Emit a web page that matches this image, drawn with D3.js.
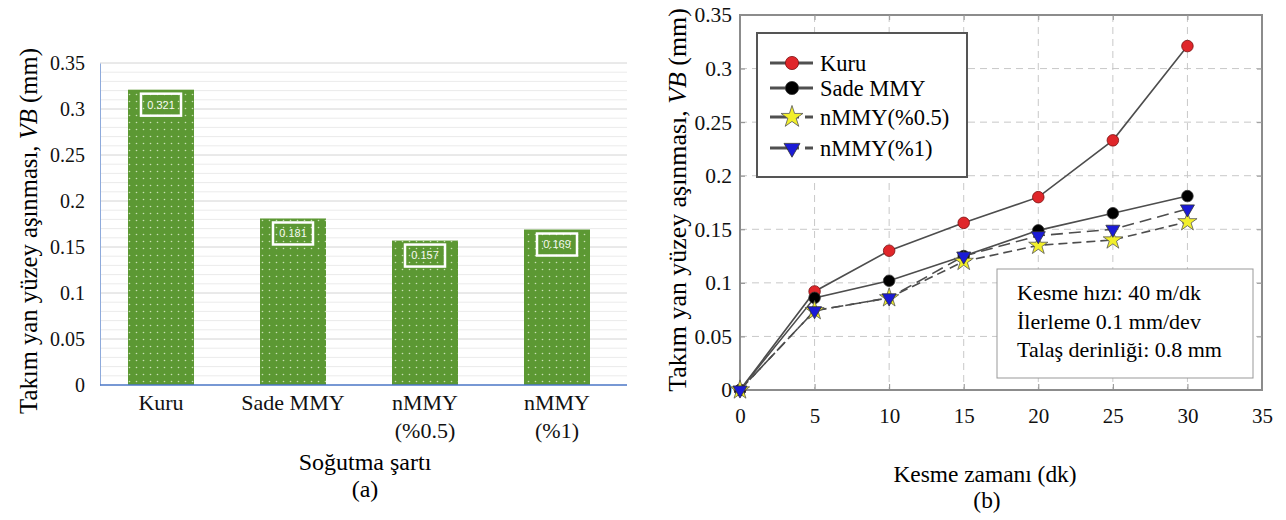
<!DOCTYPE html>
<html>
<head>
<meta charset="utf-8">
<script src="https://cdn.jsdelivr.net/npm/d3@7"></script>
<style>
  body { margin: 0; background: #fff; }
  svg { display: block; font-family: "Liberation Serif", "Times New Roman", serif; }
</style>
</head>
<body>
<div id="chart"></div>
<script>
// ---- data: panel (a) ----
const conditions = ["Kuru", "Sade MMY", "nMMY\n(%0.5)", "nMMY\n(%1)"];
const wearValues = [0.321, 0.181, 0.157, 0.169];
const barTicks = [0, 0.05, 0.1, 0.15, 0.2, 0.25, 0.3, 0.35];

// ---- data: panel (b) ----
const cutTimes = [0, 5, 10, 15, 20, 25, 30];
const seriesNames = ["Kuru", "Sade MMY", "nMMY(%0.5)", "nMMY(%1)"];
const kuruWear = [0, 0.092, 0.130, 0.156, 0.180, 0.233, 0.321];
const sadeWear = [0, 0.086, 0.102, 0.125, 0.149, 0.165, 0.181];
const nmmy05Wear = [0, 0.074, 0.086, 0.120, 0.135, 0.140, 0.157];
const nmmy1Wear = [0, 0.074, 0.086, 0.125, 0.144, 0.150, 0.169];
const xTicksB = [0, 5, 10, 15, 20, 25, 30, 35];
const yTicksB = [0, 0.05, 0.1, 0.15, 0.2, 0.25, 0.3, 0.35];
const noteLines = ["Kesme hızı: 40 m/dk", "İlerleme 0.1 mm/dev", "Talaş derinliği: 0.8 mm"];

const svg = d3.select("#chart").append("svg")
    .attr("width", 1286)
    .attr("height", 520);

// dotted fill for the bars
const defs = svg.append("defs");
const pat = defs.append("pattern")
    .attr("id", "dots")
    .attr("width", 7).attr("height", 7)
    .attr("patternUnits", "userSpaceOnUse");
pat.append("rect").attr("width", 7).attr("height", 7).attr("fill", "#5c9833");
pat.append("circle").attr("cx", 3.5).attr("cy", 3.5).attr("r", 0.8).attr("fill", "#c9e0b4");

const fmt = d => d === 0 ? "0" : String(+d.toFixed(2));

/////////////// PANEL (a) ///////////////
const a = svg.append("g");

const xA = d3.scaleBand()
    .domain(conditions)
    .range([95, 623])
    .paddingInner(0.5)
    .paddingOuter(0.25);

const yA = d3.scaleLinear()
    .domain([0, 0.35])
    .range([385, 63]);

// minor + major gridlines
a.append("g").selectAll("line")
    .data(d3.range(1, 36).map(i => i / 100))
    .join("line")
    .attr("x1", 100).attr("x2", 627)
    .attr("y1", d => yA(d)).attr("y2", d => yA(d))
    .attr("stroke", (d, i) => (i + 1) % 5 === 0 ? "#d4d4d4" : "#ebebeb")
    .attr("stroke-width", 1);

// y axis
a.append("g")
    .attr("transform", "translate(100,0)")
    .call(d3.axisLeft(yA).tickValues(barTicks).tickSize(0).tickPadding(15).tickFormat(fmt))
    .call(g => g.select(".domain").attr("stroke", "#8eaadb"))
    .call(g => g.selectAll("text").attr("font-size", 20).attr("font-family", "Liberation Serif").attr("fill", "#111"));

// bars
a.selectAll(".bar")
    .data(wearValues)
    .join("rect")
    .attr("class", "bar")
    .attr("x", (d, i) => xA(conditions[i]))
    .attr("y", d => yA(d))
    .attr("width", xA.bandwidth())
    .attr("height", d => yA(0) - yA(d))
    .attr("fill", "url(#dots)");

// value labels in boxes
const lab = a.selectAll(".lab")
    .data(wearValues)
    .join("g")
    .attr("class", "lab")
    .attr("transform", (d, i) => `translate(${xA(conditions[i]) + xA.bandwidth() / 2},${yA(d) + 15})`);
lab.append("rect")
    .attr("x", -20).attr("y", -11)
    .attr("width", 40).attr("height", 22)
    .attr("fill", "none")
    .attr("stroke", "#fff")
    .attr("stroke-width", 2.5);
lab.append("text")
    .attr("text-anchor", "middle")
    .attr("dy", "0.35em")
    .attr("font-family", "Liberation Sans, Arial, sans-serif")
    .attr("font-size", 11)
    .attr("fill", "#f4f8f0")
    .text(d => d.toFixed(3));

// bottom axis line
a.append("line")
    .attr("x1", 100).attr("x2", 627)
    .attr("y1", yA(0)).attr("y2", yA(0))
    .attr("stroke", "#4a76c6").attr("stroke-width", 1.5);

// category labels
a.selectAll(".cat")
    .data(conditions)
    .join("text")
    .attr("class", "cat")
    .attr("y", 410)
    .attr("text-anchor", "middle")
    .attr("font-size", 22)
    .attr("fill", "#111")
    .each(function (d) {
        const cx = xA(d) + xA.bandwidth() / 2;
        d3.select(this).selectAll("tspan")
            .data(d.split("\n"))
            .join("tspan")
            .attr("x", cx)
            .attr("dy", (p, j) => j === 0 ? 0 : 28)
            .text(p => p);
    });

a.append("text")
    .attr("x", 365).attr("y", 470)
    .attr("text-anchor", "middle")
    .attr("font-size", 24)
    .text("Soğutma şartı");
a.append("text")
    .attr("x", 365).attr("y", 497)
    .attr("text-anchor", "middle")
    .attr("font-size", 24)
    .text("(a)");

const yTitleA = a.append("text")
    .attr("transform", "translate(37,231) rotate(-90)")
    .attr("text-anchor", "middle")
    .attr("font-size", 24.7);
yTitleA.append("tspan").text("Takım yan yüzey aşınması, ");
yTitleA.append("tspan").attr("font-style", "italic").text("VB");
yTitleA.append("tspan").text(" (mm)");

/////////////// PANEL (b) ///////////////
const b = svg.append("g");

const xB = d3.scaleLinear().domain([0, 35]).range([740, 1262]);
const yB = d3.scaleLinear().domain([0, 0.35]).range([390, 15]);

// dashed gridlines
b.append("g").selectAll("line")
    .data(xTicksB.slice(1, -1))
    .join("line")
    .attr("x1", d => xB(d)).attr("x2", d => xB(d))
    .attr("y1", yB(0.35)).attr("y2", yB(0))
    .attr("stroke", "#c8c8c8").attr("stroke-dasharray", "7,5");
b.append("g").selectAll("line")
    .data(yTicksB.slice(1, -1))
    .join("line")
    .attr("x1", xB(0)).attr("x2", xB(35))
    .attr("y1", d => yB(d)).attr("y2", d => yB(d))
    .attr("stroke", "#c8c8c8").attr("stroke-dasharray", "7,5");

// frame
b.append("rect")
    .attr("x", xB(0)).attr("y", yB(0.35))
    .attr("width", xB(35) - xB(0))
    .attr("height", yB(0) - yB(0.35))
    .attr("fill", "none")
    .attr("stroke", "#8c8c8c").attr("stroke-width", 2);

// axes
b.append("g")
    .attr("transform", `translate(${xB(0)},0)`)
    .call(d3.axisLeft(yB).tickValues(yTicksB).tickSize(-5).tickPadding(8).tickFormat(fmt))
    .call(g => g.select(".domain").remove())
    .call(g => g.selectAll("line").attr("stroke", "#8c8c8c"))
    .call(g => g.selectAll("text").attr("font-size", 21.5).attr("font-family", "Liberation Serif").attr("fill", "#111"));

b.append("g")
    .attr("transform", `translate(0,${yB(0)})`)
    .call(d3.axisBottom(xB).tickValues(xTicksB).tickSize(-6).tickPadding(18))
    .call(g => g.select(".domain").remove())
    .call(g => g.selectAll("line").attr("stroke", "#8c8c8c"))
    .call(g => g.selectAll("text").attr("font-size", 21).attr("font-family", "Liberation Serif").attr("fill", "#111"));

// small inward ticks on top and right borders
b.append("g")
    .attr("transform", `translate(0,${yB(0.35)})`)
    .call(d3.axisTop(xB).tickValues(xTicksB.slice(1, -1)).tickSize(-5).tickFormat(""))
    .call(g => g.select(".domain").remove())
    .call(g => g.selectAll("line").attr("stroke", "#9a9a9a"));
b.append("g")
    .attr("transform", `translate(${xB(35)},0)`)
    .call(d3.axisRight(yB).tickValues(yTicksB.slice(1, -1)).tickSize(-5).tickFormat(""))
    .call(g => g.select(".domain").remove())
    .call(g => g.selectAll("line").attr("stroke", "#9a9a9a"));

// series
const seriesB = [
    { name: seriesNames[0], values: kuruWear, dash: null, marker: "circle", fill: "#e0262a", edge: "#7a1010" },
    { name: seriesNames[1], values: sadeWear, dash: null, marker: "circle", fill: "#000", edge: "#333" },
    { name: seriesNames[2], values: nmmy05Wear, dash: "9,5", marker: "star", fill: "#f2ef2a", edge: "#555" },
    { name: seriesNames[3], values: nmmy1Wear, dash: "12,6", marker: "tri", fill: "#1b1bd6", edge: "#333" }
];

const line = d3.line()
    .x((d, i) => xB(cutTimes[i]))
    .y(d => yB(d));

const symbolFor = m => m === "circle" ? d3.symbolCircle : m === "star" ? d3.symbolStar : d3.symbolTriangle;
const sizeFor = m => m === "circle" ? 105 : m === "star" ? 115 : 85;

seriesB.forEach(s => {
    b.append("path")
        .datum(s.values)
        .attr("d", line)
        .attr("fill", "none")
        .attr("stroke", "#4d4d4d")
        .attr("stroke-width", 1.6)
        .attr("stroke-dasharray", s.dash);
});

seriesB.forEach(s => {
    b.append("g").selectAll("path")
        .data(s.values)
        .join("path")
        .attr("d", d3.symbol().type(symbolFor(s.marker)).size(sizeFor(s.marker)))
        .attr("transform", (d, i) => `translate(${xB(cutTimes[i])},${yB(d)})` + (s.marker === "tri" ? " rotate(180)" : ""))
        .attr("fill", s.fill)
        .attr("stroke", s.edge)
        .attr("stroke-width", 0.8);
});

// legend
const legend = b.append("g").attr("transform", "translate(757,33)");
legend.append("rect")
    .attr("width", 210).attr("height", 144)
    .attr("fill", "#fff")
    .attr("stroke", "#555").attr("stroke-width", 2);
const legY = [30, 55, 84, 115];
seriesB.forEach((s, i) => {
    const row = legend.append("g").attr("transform", `translate(0,${legY[i]})`);
    row.append("line")
        .attr("x1", 13).attr("x2", 56)
        .attr("stroke", "#505050").attr("stroke-width", 3)
        .attr("stroke-dasharray", s.dash ? "29,6,8" : null);
    row.append("path")
        .attr("d", d3.symbol().type(symbolFor(s.marker)).size(sizeFor(s.marker) * 1.3))
        .attr("transform", "translate(35,0)" + (s.marker === "tri" ? " rotate(180)" : ""))
        .attr("fill", s.fill)
        .attr("stroke", s.edge).attr("stroke-width", 0.8);
    row.append("text")
        .attr("x", 63).attr("dy", "0.35em")
        .attr("font-size", 22.5)
        .text(s.name);
});

// note box
const note = b.append("g").attr("transform", "translate(997,269)");
note.append("rect")
    .attr("width", 256).attr("height", 109)
    .attr("fill", "#fff")
    .attr("stroke", "#999").attr("stroke-width", 1);
note.selectAll("text")
    .data(noteLines)
    .join("text")
    .attr("x", 20)
    .attr("y", (d, i) => 31 + i * 28.5)
    .attr("font-size", 22)
    .text(d => d);

b.append("text")
    .attr("x", 985).attr("y", 482)
    .attr("text-anchor", "middle")
    .attr("font-size", 23.4)
    .text("Kesme zamanı (dk)");
b.append("text")
    .attr("x", 987).attr("y", 508)
    .attr("text-anchor", "middle")
    .attr("font-size", 23.4)
    .text("(b)");

const yTitleB = b.append("text")
    .attr("transform", "translate(686,200) rotate(-90)")
    .attr("text-anchor", "middle")
    .attr("font-size", 25.9);
yTitleB.append("tspan").text("Takım yan yüzey aşınması, ");
yTitleB.append("tspan").attr("font-style", "italic").text("VB");
yTitleB.append("tspan").text(" (mm)");
</script>
</body>
</html>
